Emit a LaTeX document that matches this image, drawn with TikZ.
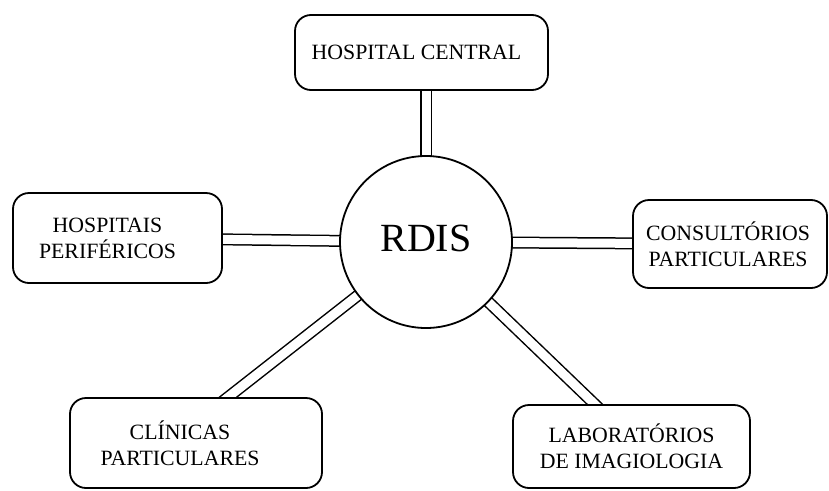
\documentclass[tikz,border=0pt]{standalone}
\usepackage{fontspec}
\setmainfont{Liberation Serif}
\usetikzlibrary{backgrounds, calc}

\tikzset{
  box/.style={draw, fill=white, line width=1.8pt, rounded corners=16pt, inner sep=0pt},
  boxtext/.style={align=center, inner sep=0pt, font=\fontsize{21.8}{26}\selectfont},
  link/.style={double, double distance=9pt, line width=1.5pt},
}

\begin{document}
\begin{tikzpicture}[x=1pt, y=-1pt]
    \useasboundingbox (0,0) rectangle (829,490);

    % centre
    \node[draw, fill=white, circle, line width=1.8pt, minimum size=172pt, inner sep=0pt] (rdis) at (426,242) {};
    \node[inner sep=0pt, yshift=4pt, font=\fontsize{40}{46}\selectfont] (rdis-t) at (rdis) {RDIS};

    % boxes
    \node[box, minimum width=253pt, minimum height=75pt] (hc) at (421.5,52.5) {};
    \node[box, minimum width=209pt, minimum height=90pt] (hp) at (117.5,238) {};
    \node[box, minimum width=194pt, minimum height=88pt] (cp) at (730,244) {};
    \node[box, minimum width=252pt, minimum height=90pt] (cl) at (196,443) {};
    \node[box, minimum width=237pt, minimum height=83pt] (lab) at (631.5,446.5) {};

    \node[boxtext, xshift=-5pt] (hc-t) at (hc) {HOSPITAL CENTRAL};
    \node[boxtext, xshift=-10pt] (hp-t) at (hp) {HOSPITAIS\\PERIFÉRICOS};
    \node[boxtext, xshift=-2pt] (cp-t) at (cp) {CONSULTÓRIOS\\PARTICULARES};
    \node[boxtext, xshift=-16pt] (cl-t) at (cl) {CLÍNICAS\\PARTICULARES};
    \node[boxtext] (lab-t) at (lab) {LABORATÓRIOS\\DE IMAGIOLOGIA};

    % links, under the white boxes
    \begin{scope}[on background layer]
        \draw[link] (rdis.center) -- (rdis.center |- hc.center);
        \draw[link] (rdis.center) -- (hp.center);
        \draw[link] (rdis.center) -- (cp.center);
        \draw[link] (rdis.center) -- ($(rdis.center)!1.15!(cl.55)$);
        \draw[link] (rdis.center) -- ($(rdis.center)!1.15!(lab.131)$);
    \end{scope}
\end{tikzpicture}
\end{document}
